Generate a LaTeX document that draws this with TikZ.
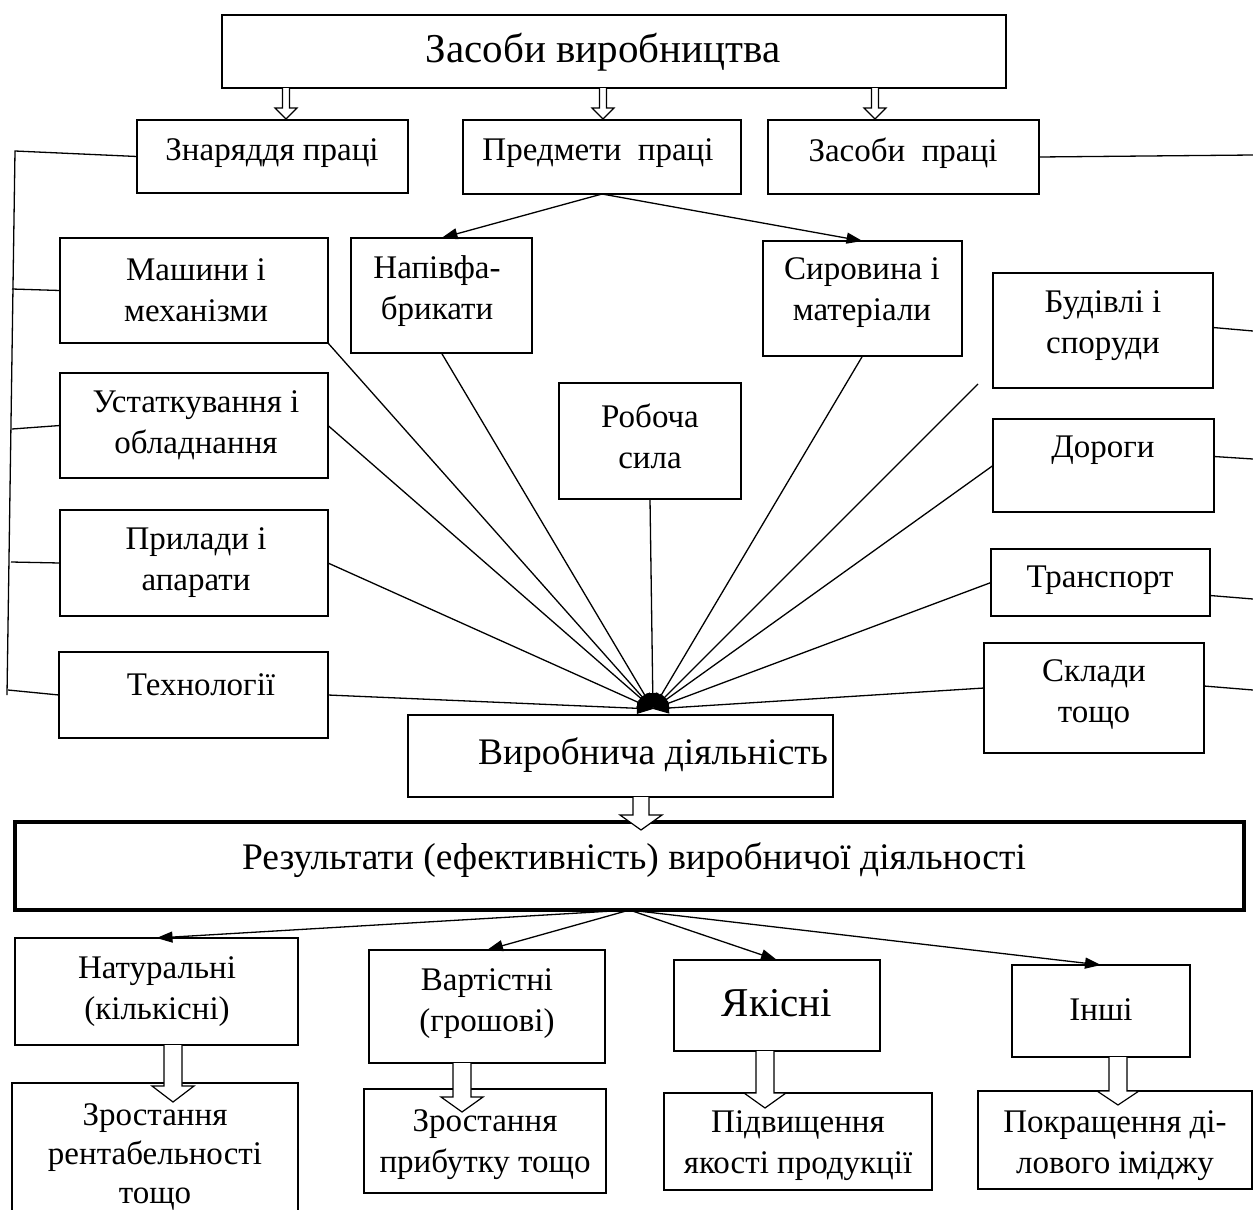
\documentclass[tikz,border=0pt]{standalone}
\usepackage{fontspec}
\setmainfont{Liberation Serif}
\usetikzlibrary{arrows.meta,calc,fit}
\newcommand{\nfs}{\fontsize{33}{41}\selectfont}
\newcommand{\bfs}{\fontsize{37.5}{44}\selectfont}
\newcommand{\tfs}{\fontsize{41}{46}\selectfont}
\newcommand{\harr}[6]{%
  \draw[hol] (#1-#5,#2) -- (#1-#5,#3) -- (#1-#6,#3) -- (#1,#4) -- (#1+#6,#3) -- (#1+#5,#3) -- (#1+#5,#2);}
\begin{document}
\begin{tikzpicture}[x=1pt,y=-1pt,
  bx/.style={draw, line width=1.3pt, inner sep=0pt, outer sep=0pt},
  txt/.style={align=center, inner sep=0pt, font=\nfs},
  big/.style={align=center, inner sep=0pt, font=\bfs},
  ln/.style={line width=1.3pt},
  ar/.style={line width=1.3pt, -{Triangle[length=16pt,width=11pt]}},
  hol/.style={draw, line width=1.2pt, fill=white, miter limit=10}
]
\useasboundingbox (0,0) rectangle (1253,1210);

% top level
\node[bx, line width=2.4pt, fit={(222,15)(1006,88)}] (top) {};
\node[big, font=\tfs] (top-t) at (603,52) {Засоби виробництва};

\node[bx, fit={(137,120)(408,193)}] (zn) {};
\node[txt] (zn-t) at (272,153) {Знаряддя праці};
\node[bx, fit={(463,120)(741,194)}] (pr) {};
\node[txt] (pr-t) at (598,153) {Предмети \ праці};
\node[bx, fit={(768,120)(1039,194)}] (zp) {};
\node[txt] (zp-t) at (903,153) {Засоби \ праці};

\harr{286}{88}{108}{119}{3.5}{11}
\harr{603}{88}{108}{119}{3.5}{11}
\harr{875}{88}{108}{119}{3.5}{11}

% second level
\node[bx, fit={(60,238)(328,343)}] (mash) {};
\node[txt] (mash-t) at (196,290) {Машини і\\механізми};
\node[bx, fit={(351,238)(532,353)}] (napiv) {};
\node[txt] (napiv-t) at (437,291) {Напівфа-\\брикати};
\node[bx, fit={(763,241)(962,356)}] (syr) {};
\node[txt] (syr-t) at (862,293) {Сировина і\\матеріали};
\node[bx, fit={(993,273)(1213,388)}] (bud) {};
\node[txt] (bud-t) at (1103,326) {Будівлі і\\споруди};
\node[bx, fit={(60,373)(328,478)}] (ust) {};
\node[txt] (ust-t) at (196,425) {Устаткування і\\обладнання};
\node[bx, fit={(559,383)(741,499)}] (rob) {};
\node[txt] (rob-t) at (650,436) {Робоча\\сила};
\node[bx, fit={(993,419)(1214,512)}] (dor) {};
\node[txt] (dor-t) at (1103,450) {Дороги};
\node[bx, fit={(60,510)(328,616)}] (pryl) {};
\node[txt] (pryl-t) at (196,563) {Прилади і\\апарати};
\node[bx, fit={(991,549)(1210,616)}] (tr) {};
\node[txt] (tr-t) at (1100,580) {Транспорт};
\node[bx, fit={(59,652)(328,738)}] (tech) {};
\node[txt] (tech-t) at (201,685) {Технології};
\node[bx, fit={(984,643)(1204,753)}] (skl) {};
\node[txt] (skl-t) at (1094,694) {Склади\\тощо};

\node[bx, line width=2.2pt, fit={(408,715)(833,797)}] (vyr) {};
\node[big] (vyr-t) at (653,755) {Виробнича діяльність};
\node[bx, line width=3.5pt, fit={(15,822)(1244,910)}] (res) {};
\node[big] (res-t) at (634,860) {Результати (ефективність) виробничої діяльності};

\coordinate (hub) at (653,709);

% links from Предмети праці
\draw[ar] (pr.south) -- (napiv.north);
\draw[ar] (pr.south) -- (syr.north);

% converging arrows
\draw[ar] (mash.south east) -- (hub);
\draw[ar] (napiv.south) -- (hub);
\draw[ar] (ust.east) -- (hub);
\draw[ar] (pryl.east) -- (hub);
\draw[ar] (tech.east) -- (hub);
\draw[ar] (rob.south) -- (hub);
\draw[ar] (syr.south) -- (hub);
\draw[ar] ($(bud.south west)+(-15,-4)$) -- (hub);
\draw[ar] (dor.west) -- (hub);
\draw[ar] (tr.west) -- (hub);
\draw[ar] ($(skl.west)+(0,-10)$) -- (hub);

% left bracket
\coordinate (lt) at (15,151);
\coordinate (lb) at (7,695);
\draw[ln] (zn.west) -- (lt) -- (lb);
\draw[ln] (12,289) -- (mash.west);
\draw[ln] (12,429) -- (ust.west);
\draw[ln] (11,562) -- (pryl.west);
\draw[ln] (8,690) -- (tech.west);

% right side
\draw[ln] (zp.east) -- (1253,155);
\draw[ln] ($(bud.east)+(0,-3)$) -- (1253,331);
\draw[ln] ($(dor.east)+(0,-9)$) -- (1253,459);
\draw[ln] ($(tr.east)+(0,13)$) -- (1253,599);
\draw[ln] ($(skl.east)+(0,-12)$) -- (1253,690);

\harr{641}{797}{815}{830}{8}{21}

% results
\node[bx, fit={(15,938)(298,1045)}] (nat) {};
\node[txt] (nat-t) at (157,992) {Натуральні\\(кількісні)};
\node[bx, fit={(369,950)(605,1063)}] (vart) {};
\node[txt] (vart-t) at (487,1004) {Вартістні\\(грошові)};
\node[bx, fit={(674,960)(880,1051)}] (yak) {};
\node[big, font=\tfs] (yak-t) at (777,1003) {Якісні};
\node[bx, fit={(1012,965)(1190,1057)}] (insh) {};
\node[txt] (insh-t) at (1101,1010) {Інші};

\draw[ar] (res.south) -- (nat.north);
\draw[ar] (res.south) -- (vart.north);
\draw[ar] (res.south) -- (yak.north);
\draw[ar] (res.south) -- (insh.north);

\node[bx, fit={(12,1083)(298,1225)}] (zr1) {};
\node[txt, font=\fontsize{33}{39}\selectfont] (zr1-t) at (155,1157) {Зростання\\рентабельності\\тощо};
\node[bx, fit={(364,1089)(606,1193)}] (zr2) {};
\node[txt] (zr2-t) at (485,1145) {Зростання\\прибутку тощо};
\node[bx, fit={(664,1093)(932,1190)}] (pid) {};
\node[txt] (pid-t) at (798,1146) {Підвищення\\якості продукції};
\node[bx, fit={(978,1091)(1252,1189)}] (pok) {};
\node[txt] (pok-t) at (1115,1146) {Покращення ді-\\лового іміджу};

\harr{173}{1045}{1086}{1102}{9}{21}
\harr{462}{1063}{1097}{1112}{9}{21}
\harr{765}{1051}{1093}{1108}{9}{21}
\harr{1118}{1057}{1091}{1105}{9}{21}
\end{tikzpicture}
\end{document}
